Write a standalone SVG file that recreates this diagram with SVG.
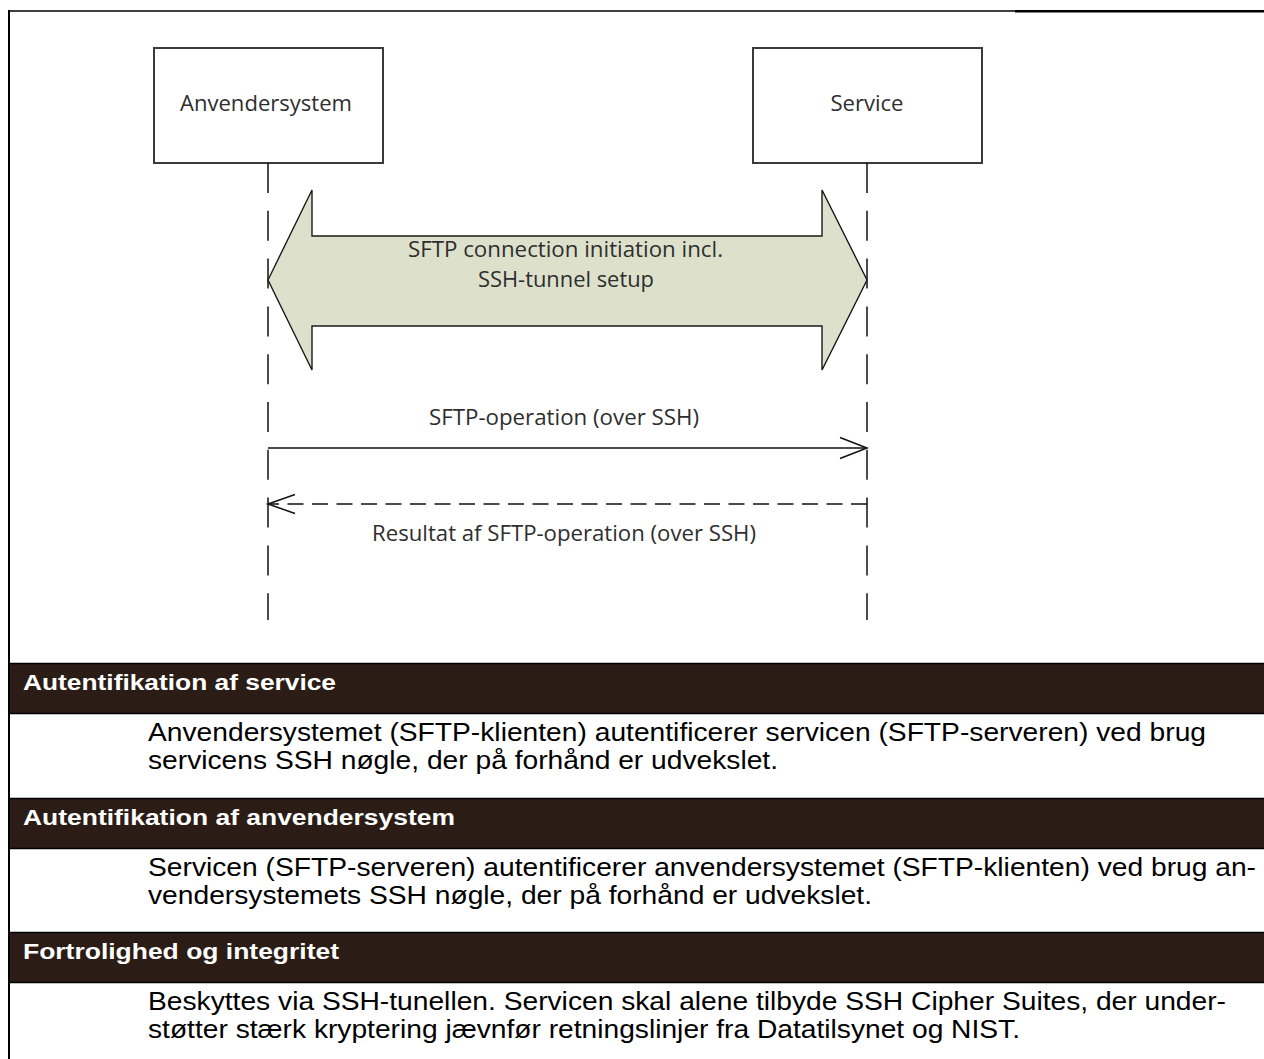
<svg xmlns="http://www.w3.org/2000/svg" width="1264" height="1059" viewBox="0 0 1264 1059">
  <defs>
    <style>
      .frame { stroke: #000; fill: none; }
      .box { fill: #fff; stroke: #3a3a3a; stroke-width: 2; }
      .lbl { font-family: "Open Sans", "DejaVu Sans", sans-serif; font-size: 21px; fill: #2e2e2e; }
      .life { stroke: #111; stroke-width: 1.5; stroke-dasharray: 30 17.8; fill: none; }
      .msg { stroke: #111; stroke-width: 1.5; fill: none; }
      .reply { stroke: #111; stroke-width: 1.5; stroke-dasharray: 16 8.5; fill: none; }
      .head { stroke: #111; stroke-width: 1.5; fill: none; stroke-linejoin: miter; }
      .tunnel { fill: #dde1cb; stroke: #1a1a1a; stroke-width: 1.4; stroke-linejoin: miter; }
      .bar { fill: #2b1d16; }
      .barline { stroke: #000; stroke-width: 1.5; }
      .htxt { font-family: "Liberation Sans", Arial, sans-serif; font-weight: bold; font-size: 21.5px; fill: #fff; }
      .btxt { font-family: "Liberation Sans", Arial, sans-serif; font-size: 25px; fill: #000; }
    </style>
  </defs>

  <rect width="1264" height="1059" fill="#fff"/>

  <!-- page frame -->
  <g id="frame">
    <line class="frame" x1="9" y1="10" x2="9" y2="1059" stroke-width="2"/>
    <line class="frame" x1="8" y1="11" x2="1015" y2="11" stroke-width="1.6"/>
    <line class="frame" x1="1015" y1="11.3" x2="1264" y2="11.3" stroke-width="2.4"/>
  </g>

  <!-- participants -->
  <g id="anvendersystem">
    <rect class="box" x="154" y="48" width="229" height="115"/>
    <text class="lbl" x="180" y="111" textLength="172" lengthAdjust="spacingAndGlyphs">Anvendersystem</text>
  </g>
  <g id="service">
    <rect class="box" x="753" y="48" width="229" height="115"/>
    <text class="lbl" x="830.5" y="111" textLength="73" lengthAdjust="spacingAndGlyphs">Service</text>
  </g>

  <!-- lifelines, tunnel and messages -->
  <g id="connectors">
    <line class="life" x1="268" y1="163" x2="268" y2="620"/>
    <line class="life" x1="867" y1="163" x2="867" y2="620"/>

    <g id="tunnel">
      <polygon class="tunnel" points="268,280 312,190 312,236 822,236 822,190 867,280 822,370 822,326 312,326 312,370"/>
      <text class="lbl" x="408" y="257" textLength="315" lengthAdjust="spacingAndGlyphs">SFTP connection initiation incl.</text>
      <text class="lbl" x="478" y="287" textLength="176" lengthAdjust="spacingAndGlyphs">SSH-tunnel setup</text>
    </g>

    <g id="request">
      <line class="msg" x1="268" y1="448" x2="866" y2="448"/>
      <polyline class="head" points="840,437.5 867,448 840,458.5"/>
      <text class="lbl" x="429" y="425" textLength="270" lengthAdjust="spacingAndGlyphs">SFTP-operation (over SSH)</text>
    </g>

    <g id="response">
      <line class="reply" x1="867" y1="504" x2="269" y2="504"/>
      <polyline class="head" points="295,494.5 268,504 295,513.5"/>
      <text class="lbl" x="372" y="541" textLength="384" lengthAdjust="spacingAndGlyphs">Resultat af SFTP-operation (over SSH)</text>
    </g>
  </g>

  <!-- section: service authentication -->
  <g id="sec-service">
    <rect class="bar" x="10" y="663" width="1254" height="50"/>
    <line class="barline" x1="9" y1="663.5" x2="1264" y2="663.5" stroke-width="2.5"/>
    <line class="barline" x1="9" y1="713.5" x2="1264" y2="713.5"/>
    <text class="htxt" x="23" y="690" textLength="313" lengthAdjust="spacingAndGlyphs">Autentifikation af service</text>
    <text class="btxt" x="148" y="741" textLength="1058" lengthAdjust="spacingAndGlyphs">Anvendersystemet (SFTP-klienten) autentificerer servicen (SFTP-serveren) ved brug</text>
    <text class="btxt" x="148" y="769" textLength="630" lengthAdjust="spacingAndGlyphs">servicens SSH nøgle, der på forhånd er udvekslet.</text>
  </g>

  <!-- section: client authentication -->
  <g id="sec-anvendersystem">
    <rect class="bar" x="10" y="798" width="1254" height="50"/>
    <line class="barline" x1="9" y1="798.5" x2="1264" y2="798.5" stroke-width="2.5"/>
    <line class="barline" x1="9" y1="848.5" x2="1264" y2="848.5"/>
    <text class="htxt" x="23" y="825" textLength="432" lengthAdjust="spacingAndGlyphs">Autentifikation af anvendersystem</text>
    <text class="btxt" x="148" y="876" textLength="1108" lengthAdjust="spacingAndGlyphs">Servicen (SFTP-serveren) autentificerer anvendersystemet (SFTP-klienten) ved brug an-</text>
    <text class="btxt" x="148" y="904" textLength="724" lengthAdjust="spacingAndGlyphs">vendersystemets SSH nøgle, der på forhånd er udvekslet.</text>
  </g>

  <!-- section: confidentiality and integrity -->
  <g id="sec-fortrolighed">
    <rect class="bar" x="10" y="932" width="1254" height="50"/>
    <line class="barline" x1="9" y1="932.5" x2="1264" y2="932.5" stroke-width="2.5"/>
    <line class="barline" x1="9" y1="982.5" x2="1264" y2="982.5"/>
    <text class="htxt" x="23" y="959" textLength="316" lengthAdjust="spacingAndGlyphs">Fortrolighed og integritet</text>
    <text class="btxt" x="148" y="1010" textLength="1078" lengthAdjust="spacingAndGlyphs">Beskyttes via SSH-tunellen. Servicen skal alene tilbyde SSH Cipher Suites, der under-</text>
    <text class="btxt" x="148" y="1038" textLength="872" lengthAdjust="spacingAndGlyphs">støtter stærk kryptering jævnfør retningslinjer fra Datatilsynet og NIST.</text>
  </g>
</svg>
